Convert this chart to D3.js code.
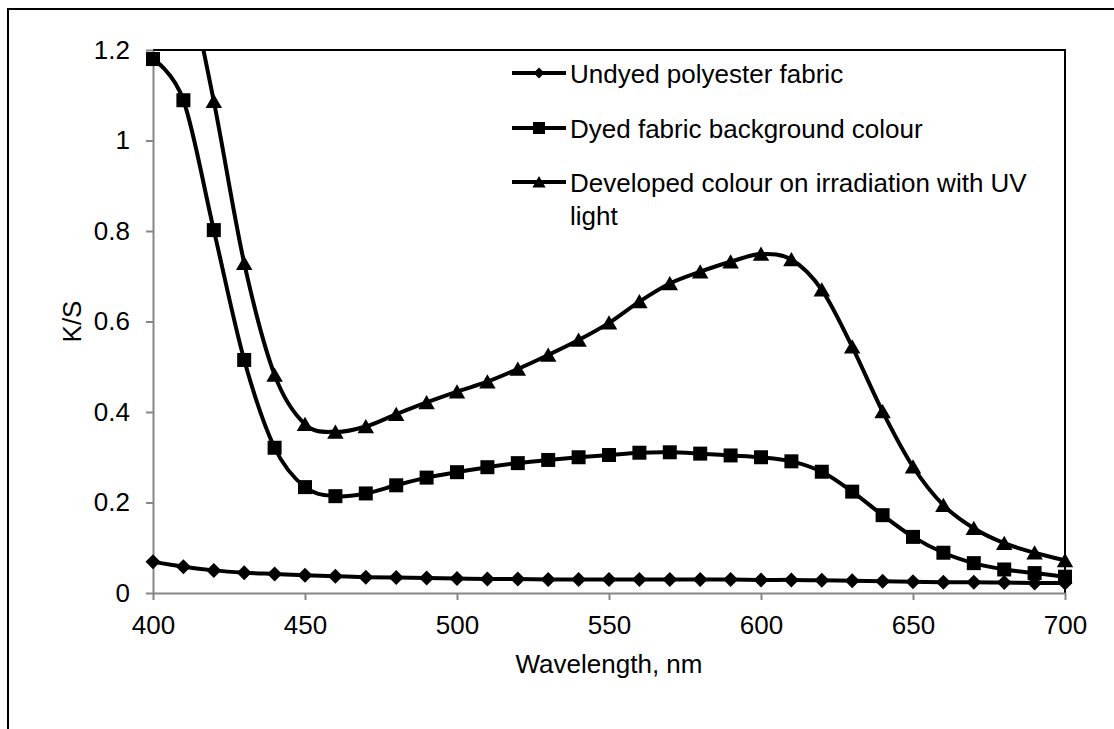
<!DOCTYPE html>
<html>
<head>
<meta charset="utf-8">
<script src="https://cdn.jsdelivr.net/npm/d3@7"></script>
<style>
  body { margin: 0; background: #fff; }
  text { font-family: "Liberation Sans", Arial, sans-serif; fill: #000; }
</style>
</head>
<body>
<svg id="chart" width="1114" height="729"></svg>
<script>
// wavelength, nm
const wavelength = [400, 410, 420, 430, 440, 450, 460, 470, 480, 490, 500, 510, 520, 530, 540, 550,
                    560, 570, 580, 590, 600, 610, 620, 630, 640, 650, 660, 670, 680, 690, 700];
// K/S values
const undyed = [0.069, 0.058, 0.050, 0.045, 0.042, 0.039, 0.037, 0.035, 0.034, 0.033, 0.032, 0.031, 0.031, 0.030, 0.030, 0.030,
                0.030, 0.030, 0.030, 0.030, 0.029, 0.029, 0.028, 0.027, 0.026, 0.025, 0.024, 0.024, 0.023, 0.022, 0.022];
const dyed = [1.180, 1.089, 0.802, 0.515, 0.321, 0.234, 0.214, 0.220, 0.238, 0.255, 0.267, 0.278, 0.287, 0.294, 0.300, 0.305,
              0.310, 0.311, 0.308, 0.304, 0.300, 0.291, 0.268, 0.224, 0.172, 0.124, 0.089, 0.066, 0.052, 0.044, 0.036];
const developed = [1.62, 1.40, 1.087, 0.729, 0.482, 0.373, 0.356, 0.368, 0.395, 0.421, 0.445, 0.467, 0.495, 0.526, 0.559, 0.597,
                   0.644, 0.684, 0.710, 0.732, 0.749, 0.737, 0.670, 0.544, 0.401, 0.279, 0.194, 0.143, 0.110, 0.089, 0.072];
const seriesNames = ["Undyed polyester fabric", "Dyed fabric background colour", "Developed colour on irradiation with UV light"];
const xTicks = [400, 450, 500, 550, 600, 650, 700];
const yTicks = [0, 0.2, 0.4, 0.6, 0.8, 1, 1.2];

const svg = d3.select("#chart");
const plotLeft = 153, plotRight = 1065, plotTop = 50, plotBottom = 593;

const x = d3.scaleLinear().domain([400, 700]).range([plotLeft, plotRight]);
const y = d3.scaleLinear().domain([0, 1.2]).range([plotBottom, plotTop]);

// outer chart frame (cut off by the picture on the right and bottom)
svg.append("rect")
  .attr("x", 8).attr("y", 9).attr("width", 1130).attr("height", 740)
  .attr("fill", "none").attr("stroke", "#000").attr("stroke-width", 2);

// plot area frame, top and right sides
svg.append("path")
  .attr("d", `M${plotLeft},${plotTop}H${plotRight}V${plotBottom}`)
  .attr("fill", "none").attr("stroke", "#000").attr("stroke-width", 2);

const yAxis = d3.axisLeft(y).tickValues(yTicks).tickFormat(d => String(d))
  .tickSize(7).tickSizeOuter(0).tickPadding(16);
const xAxis = d3.axisBottom(x).tickValues(xTicks).tickFormat(d => String(d))
  .tickSize(7).tickSizeOuter(0).tickPadding(16);

const gy = svg.append("g").attr("transform", `translate(${plotLeft},0)`).call(yAxis);
const gx = svg.append("g").attr("transform", `translate(0,${plotBottom})`).call(xAxis);
[gx, gy].forEach(g => {
  g.select(".domain").attr("stroke", "#868686").attr("stroke-width", 2);
  g.selectAll(".tick line").attr("stroke", "#868686").attr("stroke-width", 2);
  g.selectAll(".tick text").attr("font-size", 26)
    .attr("font-family", "Liberation Sans, Arial, sans-serif").attr("fill", "#000");
});

svg.append("text")
  .attr("x", (plotLeft + plotRight) / 2).attr("y", 673)
  .attr("text-anchor", "middle").attr("font-size", 26)
  .text("Wavelength, nm");

svg.append("text")
  .attr("transform", `translate(81,${y(0.6)}) rotate(-90)`)
  .attr("text-anchor", "middle").attr("font-size", 26)
  .text("K/S");

// markers
const markers = {
  diamond: s => `M0,${-s}L${s},0L0,${s}L${-s},0Z`,
  square: s => `M${-s},${-s}H${s}V${s}H${-s}Z`,
  triangle: s => `M0,${-s}L${s * 1.1},${s * 0.9}L${-s * 1.1},${s * 0.9}Z`
};

const series = [
  { name: seriesNames[0], values: undyed, marker: "diamond", size: 7.5, legendSize: 5.5 },
  { name: seriesNames[1], values: dyed, marker: "square", size: 7, legendSize: 6 },
  { name: seriesNames[2], values: developed, marker: "triangle", size: 7.5, legendSize: 6 }
];

svg.append("clipPath").attr("id", "plotClip")
  .append("rect").attr("x", plotLeft).attr("y", plotTop)
  .attr("width", plotRight - plotLeft).attr("height", plotBottom - plotTop);

const line = d3.line()
  .x(d => x(d.w)).y(d => y(d.v))
  .curve(d3.curveCardinal.tension(0));

series.forEach(s => {
  const pts = wavelength.map((w, i) => ({ w: w, v: s.values[i] }));
  svg.append("path")
    .datum(pts)
    .attr("clip-path", "url(#plotClip)")
    .attr("d", line)
    .attr("fill", "none").attr("stroke", "#000").attr("stroke-width", 4);
  svg.append("g").selectAll("path")
    .data(pts.filter(d => d.v <= 1.2))
    .enter()
    .append("path")
    .attr("transform", d => `translate(${x(d.w)},${y(d.v)})`)
    .attr("d", markers[s.marker](s.size))
    .attr("fill", "#000");
});

// legend
const legendRows = [73, 128, 182];
const legend = svg.append("g");
series.forEach((s, i) => {
  const ly = legendRows[i];
  legend.append("line")
    .attr("x1", 512).attr("x2", 566).attr("y1", ly).attr("y2", ly)
    .attr("stroke", "#000").attr("stroke-width", 4);
  legend.append("path")
    .attr("transform", `translate(539,${ly})`)
    .attr("d", markers[s.marker](s.legendSize))
    .attr("fill", "#000");
});
legend.append("text").attr("x", 570).attr("y", 83).attr("font-size", 26).text(seriesNames[0]);
legend.append("text").attr("x", 570).attr("y", 138).attr("font-size", 26).text(seriesNames[1]);
const t3 = legend.append("text").attr("x", 570).attr("y", 192).attr("font-size", 26);
t3.append("tspan").attr("x", 570).text("Developed colour on irradiation with UV");
t3.append("tspan").attr("x", 570).attr("dy", 33).text("light");
</script>
</body>
</html>
